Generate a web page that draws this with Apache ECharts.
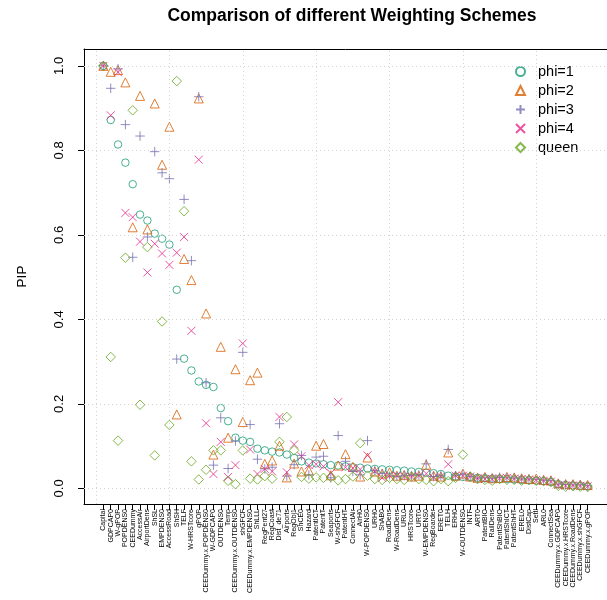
<!DOCTYPE html>
<html>
<head>
<meta charset="utf-8">
<script src="https://cdn.jsdelivr.net/npm/echarts@6/dist/echarts.min.js"></script>
<style>html,body{margin:0;padding:0;background:#fff;}#chart{width:607px;height:600px;}</style>
</head>
<body>
<div id="chart"></div>
<script>
const categories = ["Capital","GDPCAP0","W-gPOP","POPDENS0","CEEDummy","AccessAir","AirportDens","ShSL","EMPDENS0","AccessRoad",
"ShSH","TELF","W-HRSTcore","gPOP","CEEDummy.x.POPDENS0","W-GDPCAP0","OUTDENS0","Temp","CEEDummy.x.OUTDENS0","shGFCF",
"CEEDummy.x.EMPDENS0","ShLLL","RegPent27","RegCoast","Dist_de71","Airports","RegObj1","ShCE0","Hazard","PatentICT",
"PatentT","Seaports","W-shGFCF","PatentHT","ConnectAir","AirH0","W-POPDENS0","URH0","ShAB0","RoadDens",
"W-RoadDens","URL0","HRSTcore","URT0","W-EMPDENS0","RegBoarder","ERET0","TELH","ERH0","W-OUTDENS0",
"INTF","ART0","PatentBIO","RailDens","PatentShBIO","PatentShICT","PatentShHT","EREL0","DistCap","Settl",
"ARL0","ConnectSea","CEEDummy.x.GDPCAP0","CEEDummy.x.HRSTcore","CEEDummy.x.RoadDens","CEEDummy.x.shGFCF","CEEDummy.x.gPOP"];

const phi1 = [1.0,.872,.814,.771,.720,.648,.634,.603,.591,.577,
.470,.307,.279,.253,.245,.240,.190,.159,.120,.113,
.110,.094,.090,.087,.085,.080,.072,.064,.061,.059,
.057,.055,.054,.052,.050,.049,.047,.046,.045,.044,
.043,.042,.040,.039,.037,.036,.034,.030,.028,.027,
.026,.025,.024,.023,.022,.022,.021,.020,.019,.018,
.017,.015,.010,.008,.007,.006,.005];
const phi2 = [1.0,.986,.990,.961,.618,.929,.613,.911,.766,.856,
.175,.543,.493,.923,.414,.080,.335,.120,.282,.157,
.256,.274,.058,.066,.101,.026,.059,.040,.042,.101,
.105,.031,.054,.081,.051,.028,.073,.040,.035,.038,
.030,.032,.028,.030,.056,.030,.028,.085,.030,.035,
.028,.025,.027,.024,.025,.027,.026,.024,.022,.023,
.020,.019,.012,.010,.010,.009,.008];
const phi3 = [1.0,.947,.993,.861,.547,.834,.595,.797,.747,.733,
.306,.684,.539,.927,.250,.055,.167,.047,.112,.322,
.151,.069,.046,.050,.153,.029,.056,.078,.032,.074,
.076,.025,.125,.064,.040,.032,.113,.042,.035,.030,
.028,.030,.030,.032,.058,.028,.030,.092,.030,.032,
.028,.024,.025,.024,.026,.025,.024,.022,.022,.021,
.019,.018,.010,.009,.008,.008,.006];
const phi4 = [1.0,.883,.985,.652,.642,.584,.511,.579,.556,.529,
.558,.595,.373,.778,.154,.034,.110,.027,.055,.343,
.092,.034,.046,.040,.169,.038,.104,.076,.055,.057,
.052,.036,.204,.050,.048,.045,.078,.040,.025,.030,
.030,.028,.027,.030,.035,.025,.028,.057,.030,.030,
.028,.024,.022,.022,.024,.025,.023,.022,.021,.020,
.018,.016,.008,.006,.007,.006,.005];
const queen = [1.0,.311,.113,.546,.895,.198,.571,.078,.395,.150,
.964,.656,.064,.021,.044,.090,.090,.018,.010,.090,
.023,.021,.029,.023,.110,.169,.090,.027,.023,.026,
.025,.027,.019,.022,.028,.107,.030,.022,.020,.025,
.022,.020,.028,.022,.020,.017,.022,.017,.025,.080,
.028,.022,.020,.018,.022,.020,.020,.018,.020,.018,
.017,.015,.006,.004,.005,.004,.003];

const seriesNames = ["phi=1","phi=2","phi=3","phi=4","queen"];
const yTicks = [0, 0.2, 0.4, 0.6, 0.8, 1.0];
const xGridLines = [0, 10, 20, 30, 40, 50, 60];

const colors = ["#1B9E77","#D95F02","#7570B3","#E7298A","#66A61E"];
const symbols = ["circle","triangle","path://M0,5L10,5M5,0L5,10","path://M0,0L10,10M10,0L0,10","diamond"];
const sizes = [7.5, 9, 9.5, 8, 9.5];
const allData = [phi1, phi2, phi3, phi4, queen];

const n = categories.length;
const pad = (n - 1) * 0.04;
const xIdx = categories.map((c, i) => i + 1);
const FONT = "Liberation Sans, Arial, Helvetica, sans-serif";

const chart = echarts.init(document.getElementById('chart'), null, {renderer: 'canvas'});

const series = [{
  type: 'scatter', name: '_grid', data: [], silent: true, z: 1,
  markLine: {
    silent: true, symbol: ['none','none'], label: {show: false}, animation: false,
    lineStyle: {color: '#d3d3d3', type: [1, 3], width: 1},
    emphasis: {disabled: true},
    data: xGridLines.map(v => ({xAxis: v})).concat(yTicks.map(v => ({yAxis: v})))
  }
}];
allData.forEach((arr, k) => {
  series.push({
    type: 'scatter', name: seriesNames[k], z: 2 + k,
    symbol: symbols[k], symbolSize: sizes[k],
    itemStyle: {color: 'rgba(0,0,0,0)', borderColor: colors[k], borderWidth: 1},
    emphasis: {disabled: true},
    data: arr.map((v, i) => [i + 1, v])
  });
});

chart.setOption({
  animation: false,
  textStyle: {fontFamily: FONT},
  title: {
    text: 'Comparison of different Weighting Schemes',
    left: 347, top: 2, textAlign: 'center',
    textStyle: {fontFamily: FONT, fontWeight: 'bold', fontSize: 17.5, color: '#000'}
  },
  legend: {
    orient: 'vertical', left: 510, top: 59, itemGap: 4,
    itemWidth: 9, itemHeight: 9, symbolKeepAspect: true,
    data: seriesNames,
    textStyle: {fontFamily: FONT, fontSize: 14.5, color: '#000', padding: [0, 0, 0, 8]}
  },
  grid: {left: 84, right: -2, top: 49, bottom: 96},
  xAxis: [{
    type: 'value', min: 1 - pad, max: n + pad,
    axisLine: {show: true, onZero: false, lineStyle: {color: '#000'}},
    splitLine: {show: false},
    axisTick: {show: true, length: 6, customValues: xIdx, lineStyle: {color: '#000'}},
    axisLabel: {customValues: xIdx, rotate: 90, fontSize: 7, margin: 5, color: '#000', fontFamily: FONT,
      formatter: v => categories[Math.round(v) - 1] || ''}
  }, {
    type: 'value', position: 'top', min: 1 - pad, max: n + pad,
    axisLine: {show: true, onZero: false, lineStyle: {color: '#000'}},
    splitLine: {show: false}, axisTick: {show: false}, axisLabel: {show: false}
  }],
  yAxis: {
    type: 'value', min: -0.037, max: 1.04,
    name: 'PIP', nameLocation: 'middle', nameRotate: 90, nameGap: 55,
    nameTextStyle: {fontFamily: FONT, fontSize: 13.5, color: '#000'},
    axisLine: {show: true, onZero: false, lineStyle: {color: '#000'}},
    splitLine: {show: false},
    axisTick: {show: true, length: 6, customValues: yTicks, lineStyle: {color: '#000'}},
    axisLabel: {customValues: yTicks, rotate: 90, fontSize: 13, margin: 18, color: '#000', fontFamily: FONT,
      formatter: v => v.toFixed(1)}
  },
  series: series
});
</script>
</body>
</html>
